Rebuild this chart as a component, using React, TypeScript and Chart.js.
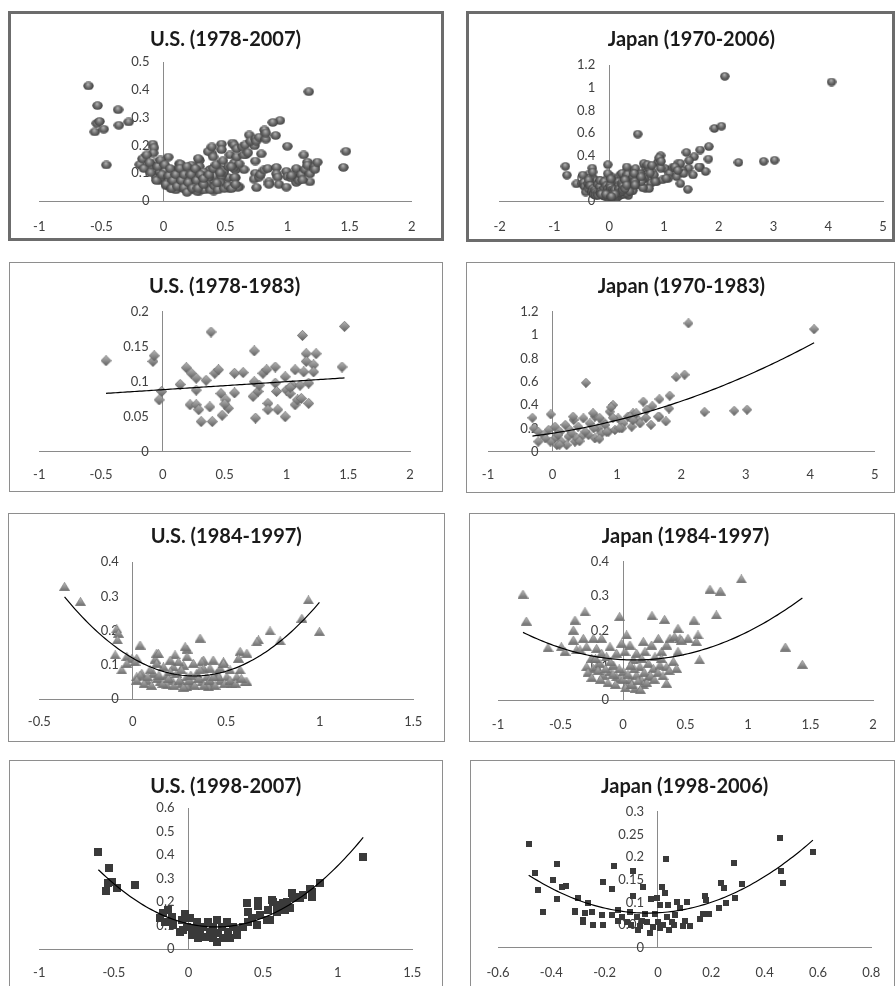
import React, { useEffect, useRef } from "react";
import { Chart, registerables } from "chart.js";
Chart.register(...registerables);

type Pt = [number, number];

// ---------- DATA (x, y) ----------
const US_1978_1983: Pt[] = [
  [-0.46, 0.13], [-0.08, 0.129], [-0.07, 0.137], [-0.03, 0.074], [-0.01, 0.086],
  [0.14, 0.096], [0.19, 0.12], [0.23, 0.112], [0.27, 0.105], [0.27, 0.088], [0.22, 0.067],
  [0.27, 0.067], [0.29, 0.06], [0.31, 0.043], [0.35, 0.102], [0.38, 0.064], [0.4, 0.043],
  [0.39, 0.171], [0.42, 0.112], [0.45, 0.117], [0.47, 0.083], [0.48, 0.052], [0.51, 0.074],
  [0.53, 0.062], [0.5, 0.068], [0.58, 0.112], [0.58, 0.084], [0.65, 0.113], [0.74, 0.144],
  [0.74, 0.1], [0.73, 0.079], [0.75, 0.048], [0.77, 0.086], [0.78, 0.095], [0.81, 0.112],
  [0.84, 0.117], [0.85, 0.069], [0.85, 0.06], [0.91, 0.121], [0.91, 0.098], [0.92, 0.086],
  [0.93, 0.06], [0.99, 0.107], [0.99, 0.05], [1.0, 0.088], [1.03, 0.083], [1.05, 0.095],
  [1.07, 0.117], [1.07, 0.067], [1.09, 0.074], [1.11, 0.095], [1.13, 0.166], [1.14, 0.114],
  [1.16, 0.14], [1.16, 0.129], [1.18, 0.098], [1.18, 0.069], [1.22, 0.124], [1.22, 0.114],
  [1.24, 0.14], [1.45, 0.121], [1.47, 0.179], [1.12, 0.076], [1.03, 0.092],
];

const US_1984_1997: Pt[] = [
  [-0.365, 0.329], [-0.28, 0.285], [-0.086, 0.205], [-0.077, 0.192], [-0.082, 0.173],
  [-0.094, 0.129], [-0.059, 0.085], [-0.032, 0.124], [-0.005, 0.119], [0.021, 0.119],
  [0.039, 0.158], [0.021, 0.065], [0.048, 0.075], [0.36, 0.178], [0.29, 0.146], [0.29, 0.124],
  [0.226, 0.129], [0.128, 0.134], [0.12, 0.117], [0.378, 0.114], [0.43, 0.114], [0.485, 0.109],
  [0.574, 0.139], [0.565, 0.119], [0.61, 0.134], [0.61, 0.051], [0.672, 0.173], [0.734, 0.199],
  [0.788, 0.17], [0.904, 0.236], [0.939, 0.29], [0.998, 0.197], [0.28, 0.153], [0.137, 0.133],
  [0.369, 0.109], [0.663, 0.167],
  [0.039, 0.07], [0.075, 0.055], [0.11, 0.075], [0.146, 0.05], [0.182, 0.07], [0.209, 0.055],
  [0.235, 0.075], [0.262, 0.046], [0.289, 0.065], [0.315, 0.046], [0.342, 0.075], [0.369, 0.05],
  [0.396, 0.065], [0.422, 0.046], [0.449, 0.075], [0.467, 0.055], [0.503, 0.065], [0.53, 0.046],
  [0.556, 0.065], [0.6, 0.05], [0.164, 0.094], [0.217, 0.094], [0.271, 0.099], [0.324, 0.104],
  [0.378, 0.09], [0.413, 0.09], [0.52, 0.085], [0.092, 0.085], [0.182, 0.041], [0.289, 0.036],
  [0.405, 0.036], [-0.032, 0.104], [0.012, 0.109], [0.244, 0.109], [0.128, 0.104], [0.467, 0.09],
  [0.574, 0.085], [0.021, 0.055], [0.36, 0.085], [0.485, 0.104], [0.2, 0.114],
  [0.06, 0.045], [0.1, 0.04], [0.13, 0.06], [0.16, 0.045], [0.19, 0.06], [0.22, 0.04],
  [0.25, 0.055], [0.27, 0.035], [0.3, 0.055], [0.33, 0.04], [0.35, 0.06], [0.38, 0.04],
  [0.41, 0.055], [0.44, 0.04], [0.46, 0.065], [0.49, 0.045], [0.52, 0.055], [0.55, 0.045],
  [0.58, 0.06], [0.2, 0.08], [0.26, 0.085], [0.31, 0.07], [0.43, 0.065], [0.14, 0.07],
  [0.08, 0.065],
];

const US_1998_2007: Pt[] = [
  [-0.604, 0.415], [-0.531, 0.344], [-0.553, 0.249], [-0.537, 0.28], [-0.515, 0.287],
  [-0.481, 0.259], [-0.359, 0.273], [-0.191, 0.131], [-0.169, 0.152], [-0.158, 0.117],
  [-0.135, 0.166], [-0.113, 0.138], [-0.102, 0.102], [-0.046, 0.124], [-0.024, 0.148],
  [-0.035, 0.081], [-0.057, 0.074], [-0.013, 0.095], [0.01, 0.131], [0.021, 0.06], [0.043, 0.091],
  [0.054, 0.117], [0.066, 0.046], [0.077, 0.074], [0.099, 0.095], [0.11, 0.053], [0.133, 0.117],
  [0.144, 0.074], [0.166, 0.095], [0.166, 0.048], [0.19, 0.124], [0.19, 0.031], [0.2, 0.067],
  [0.222, 0.095], [0.233, 0.046], [0.256, 0.117], [0.267, 0.074], [0.278, 0.046], [0.3, 0.095],
  [0.323, 0.06], [0.323, 0.081], [0.367, 0.095], [0.39, 0.195], [0.4, 0.159], [0.4, 0.117],
  [0.423, 0.131], [0.457, 0.102], [0.468, 0.205], [0.468, 0.185], [0.479, 0.145], [0.524, 0.124],
  [0.535, 0.166], [0.546, 0.124], [0.557, 0.209], [0.568, 0.202], [0.59, 0.188], [0.59, 0.159],
  [0.635, 0.195], [0.647, 0.166], [0.658, 0.202], [0.68, 0.174], [0.691, 0.238], [0.702, 0.216],
  [0.743, 0.223], [0.747, 0.216], [0.77, 0.23], [0.814, 0.256], [0.825, 0.223], [0.825, 0.245],
  [0.881, 0.283], [1.171, 0.394],
];

const JP_1970_1983: Pt[] = [
  [-0.31, 0.29], [-0.026, 0.32], [0.52, 0.59], [1.45, 0.29], [1.53, 0.23], [1.55, 0.39],
  [1.66, 0.45], [1.66, 0.3], [1.76, 0.26], [1.82, 0.48], [1.81, 0.37], [1.92, 0.64], [2.05, 0.66],
  [2.11, 1.1], [2.36, 0.34], [2.82, 0.35], [3.02, 0.36], [4.06, 1.05],
  [-0.29, 0.2], [-0.22, 0.17], [-0.14, 0.143], [-0.06, 0.186], [0.04, 0.214], [0.12, 0.17],
  [0.2, 0.229], [0.27, 0.186], [0.33, 0.272], [0.4, 0.214], [0.48, 0.286], [0.58, 0.243],
  [0.66, 0.3], [0.71, 0.2], [0.79, 0.257], [0.89, 0.343], [0.94, 0.4], [1.02, 0.286],
  [1.1, 0.243], [1.17, 0.3], [1.25, 0.329], [1.33, 0.272], [1.41, 0.429], [1.46, 0.357],
  [1.64, 0.3], [0.04, 0.114], [0.14, 0.086], [0.25, 0.129], [0.35, 0.086], [0.45, 0.129],
  [0.56, 0.143], [0.66, 0.114], [0.76, 0.157], [0.87, 0.171], [0.97, 0.186], [-0.03, 0.086],
  [0.07, 0.057], [0.22, 0.057], [0.38, 0.114], [0.51, 0.171], [0.64, 0.2], [0.82, 0.229],
  [1.08, 0.2], [1.23, 0.214], [1.36, 0.243], [0.09, 0.143], [0.3, 0.157], [-0.22, 0.086],
  [-0.11, 0.114], [0.11, 0.06], [0.42, 0.09], [0.73, 0.11], [0.84, 0.17], [1.04, 0.2],
  [1.3, 0.33], [0.91, 0.38], [0.32, 0.3], [0.63, 0.33], [0.73, 0.29], [0.94, 0.29], [1.2, 0.3],
  [1.25, 0.27],
];

const JP_1984_1997: Pt[] = [
  [-0.8, 0.306], [-0.773, 0.228], [-0.6, 0.151], [-0.493, 0.154], [-0.464, 0.14], [-0.384, 0.231],
  [-0.397, 0.202], [-0.397, 0.173], [-0.371, 0.145], [-0.344, 0.145], [-0.304, 0.255],
  [-0.317, 0.178], [-0.291, 0.154], [-0.291, 0.096], [-0.251, 0.121], [-0.237, 0.178],
  [-0.237, 0.091], [-0.211, 0.149], [-0.211, 0.096], [-0.184, 0.106], [-0.171, 0.178],
  [-0.171, 0.135], [-0.157, 0.072], [-0.131, 0.125], [-0.104, 0.154], [-0.104, 0.082],
  [-0.077, 0.101], [-0.051, 0.135], [-0.051, 0.067], [-0.027, 0.241], [-0.024, 0.062],
  [-0.011, 0.164], [0.003, 0.082], [0.016, 0.14], [0.029, 0.188], [0.029, 0.044], [0.056, 0.159],
  [0.056, 0.058], [0.083, 0.116], [0.096, 0.034], [0.109, 0.135], [0.109, 0.072], [0.136, 0.096],
  [0.149, 0.058], [0.163, 0.169], [0.163, 0.044], [0.176, 0.14], [0.203, 0.067], [0.203, 0.106],
  [0.229, 0.159], [0.232, 0.244], [0.243, 0.091], [0.256, 0.125], [0.283, 0.178], [0.296, 0.101],
  [0.309, 0.14], [0.333, 0.233], [0.349, 0.159], [0.349, 0.048], [0.349, 0.096], [0.376, 0.178],
  [0.403, 0.111], [0.413, 0.183], [0.429, 0.091], [0.44, 0.207], [0.456, 0.178], [0.52, 0.178],
  [0.568, 0.231], [0.6, 0.188], [0.613, 0.116], [0.696, 0.32], [0.747, 0.246], [0.779, 0.315],
  [0.947, 0.35], [1.299, 0.153], [1.435, 0.103], [0.44, 0.14], [0.307, 0.12], [0.587, 0.169],
  [0.467, 0.173],
  [-0.28, 0.08], [-0.25, 0.065], [-0.2, 0.085], [-0.18, 0.06], [-0.14, 0.09], [-0.12, 0.05],
  [-0.08, 0.075], [-0.06, 0.045], [-0.03, 0.09], [0.0, 0.06], [0.02, 0.035], [0.04, 0.075],
  [0.07, 0.045], [0.09, 0.09], [0.12, 0.055], [0.14, 0.03], [0.17, 0.08], [0.19, 0.05],
  [0.22, 0.07], [0.25, 0.06], [0.28, 0.08], [0.32, 0.07], [0.37, 0.085], [0.06, 0.1],
  [-0.1, 0.11], [0.15, 0.12], [-0.22, 0.12],
];

const JP_1998_2006: Pt[] = [
  [-0.485, 0.228], [-0.463, 0.164], [-0.449, 0.127], [-0.43, 0.079], [-0.392, 0.15],
  [-0.378, 0.185], [-0.38, 0.107], [-0.361, 0.135], [-0.345, 0.136], [-0.313, 0.081],
  [-0.299, 0.109], [-0.311, 0.079], [-0.281, 0.061], [-0.274, 0.076], [-0.28, 0.057],
  [-0.261, 0.098], [-0.249, 0.079], [-0.243, 0.05], [-0.211, 0.072], [-0.205, 0.05],
  [-0.208, 0.144], [-0.171, 0.129], [-0.165, 0.18], [-0.171, 0.072], [-0.149, 0.083],
  [-0.136, 0.068], [-0.117, 0.057], [-0.105, 0.079], [-0.092, 0.17], [-0.092, 0.113],
  [-0.08, 0.068], [-0.067, 0.047], [-0.074, 0.039], [-0.055, 0.133], [-0.049, 0.075],
  [-0.042, 0.057], [-0.03, 0.032], [-0.005, 0.11], [-0.025, 0.108], [-0.011, 0.075], [0.001, 0.057],
  [0.007, 0.044], [0.007, 0.094], [0.014, 0.135], [0.026, 0.12], [0.029, 0.195], [0.039, 0.094],
  [0.033, 0.068], [0.051, 0.057], [0.064, 0.072], [0.07, 0.1], [0.082, 0.087], [0.095, 0.047],
  [0.107, 0.1], [0.12, 0.047], [0.159, 0.063], [0.17, 0.075], [0.175, 0.113], [0.181, 0.105],
  [0.191, 0.074], [0.228, 0.087], [0.238, 0.143], [0.248, 0.132], [0.254, 0.098], [0.284, 0.186],
  [0.288, 0.109], [0.316, 0.14], [0.456, 0.243], [0.463, 0.169], [0.469, 0.142], [0.581, 0.212],
  [-0.02, 0.045], [0.02, 0.05], [-0.1, 0.05], [0.06, 0.05], [-0.15, 0.06], [0.1, 0.06],
  [-0.06, 0.06], [0.04, 0.04],
];

// whole-period panels are the union of their sub-periods
const US_1978_2007: Pt[] = [...US_1978_1983, ...US_1984_1997, ...US_1998_2007];
const JP_1970_2006: Pt[] = [...JP_1970_1983, ...JP_1984_1997, ...JP_1998_2006];

const TITLES = [
  "U.S. (1978-2007)", "Japan (1970-2006)",
  "U.S. (1978-1983)", "Japan (1970-1983)",
  "U.S. (1984-1997)", "Japan (1984-1997)",
  "U.S. (1998-2007)", "Japan (1998-2006)",
];

const X_TICKS_US_ALL = [-1, -0.5, 0, 0.5, 1, 1.5, 2];
const X_TICKS_JP_ALL = [-2, -1, 0, 1, 2, 3, 4, 5];
const X_TICKS_US_A = [-1, -0.5, 0, 0.5, 1, 1.5, 2];
const X_TICKS_JP_A = [-1, 0, 1, 2, 3, 4, 5];
const X_TICKS_US_B = [-0.5, 0, 0.5, 1, 1.5];
const X_TICKS_JP_B = [-1, -0.5, 0, 0.5, 1, 1.5, 2];
const X_TICKS_US_C = [-1, -0.5, 0, 0.5, 1, 1.5];
const X_TICKS_JP_C = [-0.6, -0.4, -0.2, 0, 0.2, 0.4, 0.6, 0.8];

const Y_TICKS_US_ALL = [0, 0.1, 0.2, 0.3, 0.4, 0.5];
const Y_TICKS_JP_ALL = [0, 0.2, 0.4, 0.6, 0.8, 1, 1.2];
const Y_TICKS_US_A = [0, 0.05, 0.1, 0.15, 0.2];
const Y_TICKS_JP_A = [0, 0.2, 0.4, 0.6, 0.8, 1, 1.2];
const Y_TICKS_US_B = [0, 0.1, 0.2, 0.3, 0.4];
const Y_TICKS_JP_B = [0, 0.1, 0.2, 0.3, 0.4];
const Y_TICKS_US_C = [0, 0.1, 0.2, 0.3, 0.4, 0.5, 0.6];
const Y_TICKS_JP_C = [0, 0.05, 0.1, 0.15, 0.2, 0.25, 0.3];

// trend type per panel: 0 none, 1 linear, 2 quadratic (least-squares fit of the data)
const TREND_ORDER = [0, 0, 1, 2, 2, 2, 2, 2];

// ---------- STYLE / LAYOUT ----------
const FONT = "Lato, 'Liberation Sans', sans-serif";
const TITLE_SIZE = 20;
const TICK_SIZE = 13;
const TICK_COLOR = "#404040";
const AXIS_COLOR = "#8a8a8a";
const Y_LABEL_GAP = 14;

// box: [left, top, right, bottom, border]; plot: [x0px, x1px, topPx, bottomPx]
const LAYOUT = [
  { box: [8, 11, 444, 241, 3], plot: [39.3, 411.7, 62.3, 201], titleY: 40, labelY: 227 },
  { box: [466, 11, 895, 242, 3], plot: [499.7, 883, 65, 201], titleY: 40, labelY: 227 },
  { box: [9, 262, 443, 492, 1], plot: [39.3, 410, 311.7, 451.7], titleY: 286.7, labelY: 475 },
  { box: [466, 262, 895, 493, 1], plot: [488, 874.7, 311.7, 451.7], titleY: 286.7, labelY: 475 },
  { box: [8, 513, 445, 742, 1], plot: [39.3, 413.3, 562.3, 699], titleY: 536.7, labelY: 721.7 },
  { box: [469, 513, 895, 742, 1], plot: [498, 873, 561.7, 700], titleY: 536.7, labelY: 725 },
  { box: [9, 760, 443, 1010, 1], plot: [39.3, 412.3, 808.3, 949], titleY: 786.7, labelY: 973.3 },
  { box: [470, 760, 895, 1010, 1], plot: [498, 871.3, 811.7, 947.7], titleY: 786.7, labelY: 973.3 },
];

const MARKERS = ["sphere", "sphere", "diamond", "diamond", "triangle", "triangle", "square", "square"];
const MARKER_SIZE: [number, number][] = [[11, 9], [10, 9], [11, 11], [10, 10], [11, 9], [11, 9], [8, 8], [6, 6]];

const PANELS = [
  { data: US_1978_2007, xTicks: X_TICKS_US_ALL, yTicks: Y_TICKS_US_ALL },
  { data: JP_1970_2006, xTicks: X_TICKS_JP_ALL, yTicks: Y_TICKS_JP_ALL },
  { data: US_1978_1983, xTicks: X_TICKS_US_A, yTicks: Y_TICKS_US_A },
  { data: JP_1970_1983, xTicks: X_TICKS_JP_A, yTicks: Y_TICKS_JP_A },
  { data: US_1984_1997, xTicks: X_TICKS_US_B, yTicks: Y_TICKS_US_B },
  { data: JP_1984_1997, xTicks: X_TICKS_JP_B, yTicks: Y_TICKS_JP_B },
  { data: US_1998_2007, xTicks: X_TICKS_US_C, yTicks: Y_TICKS_US_C },
  { data: JP_1998_2006, xTicks: X_TICKS_JP_C, yTicks: Y_TICKS_JP_C },
];

function fmt(v: number): string {
  return String(Math.round(v * 1000) / 1000);
}

function polyfit(pts: Pt[], deg: number): number[] {
  const n = deg + 1;
  const A: number[][] = Array.from({ length: n }, () => new Array(n + 1).fill(0));
  for (const [x, y] of pts) {
    for (let i = 0; i < n; i++) {
      for (let j = 0; j < n; j++) A[i][j] += Math.pow(x, i + j);
      A[i][n] += y * Math.pow(x, i);
    }
  }
  for (let i = 0; i < n; i++) {
    let p = i;
    for (let k = i + 1; k < n; k++) if (Math.abs(A[k][i]) > Math.abs(A[p][i])) p = k;
    const tmp = A[i]; A[i] = A[p]; A[p] = tmp;
    for (let k = i + 1; k < n; k++) {
      const f = A[k][i] / A[i][i];
      for (let j = i; j <= n; j++) A[k][j] -= f * A[i][j];
    }
  }
  const c = new Array(n).fill(0);
  for (let i = n - 1; i >= 0; i--) {
    let s = A[i][n];
    for (let j = i + 1; j < n; j++) s -= A[i][j] * c[j];
    c[i] = s / A[i][i];
  }
  return c;
}

function makeMarker(kind: string, w: number, h: number): HTMLCanvasElement {
  const c = document.createElement("canvas");
  c.width = w; c.height = h;
  const g = c.getContext("2d")!;
  if (kind === "sphere") {
    const grad = g.createRadialGradient(w * 0.45, h * 0.3, 0.3, w / 2, h / 2, w / 2);
    grad.addColorStop(0, "#b0b0b0");
    grad.addColorStop(0.45, "#6e6e6e");
    grad.addColorStop(1, "#383838");
    g.fillStyle = grad;
    g.beginPath();
    g.ellipse(w / 2, h / 2, w / 2 - 0.3, h / 2 - 0.3, 0, 0, Math.PI * 2);
    g.fill();
  } else if (kind === "diamond") {
    const grad = g.createLinearGradient(0, 0, 0, h);
    grad.addColorStop(0, "#b8b8b8");
    grad.addColorStop(0.5, "#8c8c8c");
    grad.addColorStop(1, "#5c5c5c");
    g.fillStyle = grad;
    g.beginPath();
    g.moveTo(w / 2, 0.3); g.lineTo(w - 0.3, h / 2); g.lineTo(w / 2, h - 0.3); g.lineTo(0.3, h / 2);
    g.closePath();
    g.fill();
    g.strokeStyle = "#666"; g.lineWidth = 0.7; g.stroke();
  } else if (kind === "triangle") {
    const grad = g.createLinearGradient(0, 0, 0, h);
    grad.addColorStop(0, "#c0c0c0");
    grad.addColorStop(0.6, "#8c8c8c");
    grad.addColorStop(1, "#6a6a6a");
    g.fillStyle = grad;
    g.beginPath();
    g.moveTo(w / 2, 0.3); g.lineTo(w - 0.3, h - 0.3); g.lineTo(0.3, h - 0.3);
    g.closePath();
    g.fill();
    g.strokeStyle = "#707070"; g.lineWidth = 0.6; g.stroke();
  } else {
    g.fillStyle = "#3a3a3a";
    g.fillRect(0, 0, w, h);
  }
  return c;
}

const yLabelPlugin = {
  id: "yLabelsAtZero",
  beforeDatasetsDraw(chart: any) {
    const ys = chart.scales.y;
    const xs = chart.scales.x;
    const ctx = chart.ctx;
    const xr = xs.getPixelForValue(0) - Y_LABEL_GAP;
    ctx.save();
    ctx.font = `${TICK_SIZE}px ${FONT}`;
    ctx.fillStyle = TICK_COLOR;
    ctx.textAlign = "right";
    ctx.textBaseline = "middle";
    for (const t of ys.ticks) ctx.fillText(fmt(t.value), xr, ys.getPixelForValue(t.value));
    ctx.restore();
  },
};

function Panel({ idx }: { idx: number }) {
  const ref = useRef<HTMLCanvasElement>(null);
  const lay = LAYOUT[idx];
  const [l, t, r, b, bw] = lay.box;
  const cx = l + bw, cy = t + bw;
  const W = r - l - 2 * bw, H = b - t - 2 * bw;

  useEffect(() => {
    const cfg = PANELS[idx];
    const [x0, x1, pTop, pBot] = lay.plot;
    const tickLH = TICK_SIZE * 1.2;
    const titleLH = TITLE_SIZE * 1.2;
    const tl = lay.labelY - pBot - tickLH / 2;
    const padL = x0 - cx;
    const padR = cx + W - x1;
    const padB = H - (pBot - cy) - (tl + tickLH);
    const T = lay.titleY - cy - titleLH / 2;
    const B = pTop - cy - T - titleLH;

    const [mw, mh] = MARKER_SIZE[idx];
    const marker = makeMarker(MARKERS[idx], mw, mh);

    const datasets: any[] = [];
    const order = TREND_ORDER[idx];
    if (order > 0) {
      const coef = polyfit(cfg.data, order);
      const xsArr = cfg.data.map((p) => p[0]);
      const lo = Math.min(...xsArr), hi = Math.max(...xsArr);
      const pts: { x: number; y: number }[] = [];
      for (let i = 0; i <= 100; i++) {
        const x = lo + ((hi - lo) * i) / 100;
        pts.push({ x, y: coef.reduce((s, ci, k) => s + ci * Math.pow(x, k), 0) });
      }
      datasets.push({
        data: pts, showLine: true, pointRadius: 0, borderColor: "#000",
        borderWidth: 1.2, fill: false, tension: 0,
      });
    }
    datasets.push({
      data: cfg.data.map(([x, y]) => ({ x, y })),
      pointStyle: marker, pointRadius: 5, pointHoverRadius: 5, showLine: false,
    });

    const xT = cfg.xTicks, yT = cfg.yTicks;
    const chart = new Chart(ref.current!, {
      type: "scatter",
      data: { datasets },
      options: {
        animation: false,
        responsive: false,
        events: [],
        layout: { padding: { left: padL, right: padR, top: 0, bottom: padB } },
        plugins: {
          legend: { display: false },
          tooltip: { enabled: false },
          title: {
            display: true,
            text: TITLES[idx],
            color: "#1a1a1a",
            font: { family: FONT, size: TITLE_SIZE, weight: "bold", lineHeight: 1.2 },
            padding: { top: T, bottom: B },
          },
        },
        scales: {
          x: {
            type: "linear",
            position: "bottom",
            min: xT[0],
            max: xT[xT.length - 1],
            afterBuildTicks: (s: any) => { s.ticks = xT.map((v) => ({ value: v })); },
            grid: { display: true, drawOnChartArea: false, drawTicks: true, tickLength: tl, tickColor: "rgba(0,0,0,0)" },
            border: { display: true, color: AXIS_COLOR, width: 1 },
            ticks: {
              padding: 0, autoSkip: false, maxRotation: 0, color: TICK_COLOR,
              font: { family: FONT, size: TICK_SIZE, lineHeight: 1.2 },
              callback: (v: any) => fmt(Number(v)),
            },
          },
          y: {
            type: "linear",
            position: { x: 0 },
            min: yT[0],
            max: yT[yT.length - 1],
            afterBuildTicks: (s: any) => { s.ticks = yT.map((v) => ({ value: v })); },
            grid: { display: false },
            border: { display: true, color: AXIS_COLOR, width: 1 },
            ticks: { display: false },
          },
        },
      } as any,
      plugins: [yLabelPlugin],
    });
    return () => chart.destroy();
  }, []);

  return (
    <div
      style={{
        position: "absolute", left: l, top: t, width: r - l, height: b - t,
        boxSizing: "border-box", border: `${bw}px solid ${bw > 1 ? "#6c6c6c" : "#8e8e8e"}`,
        background: "#fff",
      }}
    >
      <canvas ref={ref} width={W} height={H} style={{ position: "absolute", left: 0, top: 0, width: W, height: H }} />
    </div>
  );
}

export default function App() {
  return (
    <div style={{ position: "fixed", left: 0, top: 0, width: 896, height: 986, overflow: "hidden", background: "#fff" }}>
      {LAYOUT.map((_, i) => <Panel key={i} idx={i} />)}
    </div>
  );
}
